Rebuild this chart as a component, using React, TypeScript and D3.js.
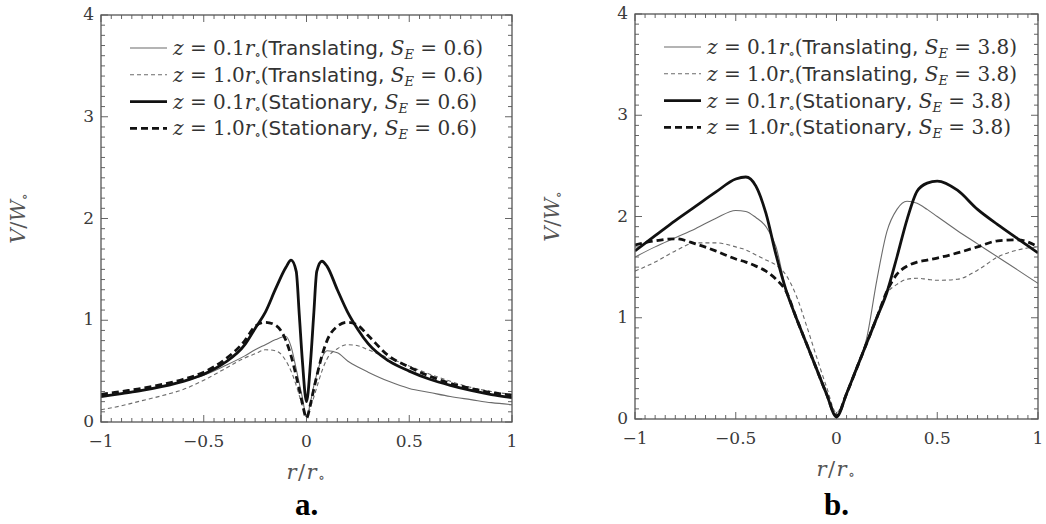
import React, { useEffect, useRef } from 'react';
import * as d3 from 'd3';

// panel a: S_E = 0.6
const rA = [-1, -0.9, -0.8, -0.7, -0.6, -0.5, -0.4, -0.3, -0.25, -0.2, -0.15, -0.1, -0.075, -0.05, -0.035, -0.02, 0,
  0.02, 0.035, 0.05, 0.075, 0.1, 0.15, 0.2, 0.25, 0.3, 0.4, 0.5, 0.6, 0.7, 0.8, 0.9, 1];
const transA01 = [0.25, 0.28, 0.31, 0.35, 0.40, 0.46, 0.55, 0.65, 0.71, 0.76, 0.81, 0.84, 0.74, 0.52, 0.38, 0.24, 0.05,
  0.2, 0.35, 0.47, 0.63, 0.70, 0.68, 0.60, 0.54, 0.49, 0.40, 0.33, 0.29, 0.25, 0.22, 0.19, 0.17];
const transA10 = [0.12, 0.16, 0.21, 0.26, 0.32, 0.41, 0.52, 0.63, 0.67, 0.71, 0.70, 0.60, 0.50, 0.36, 0.26, 0.16, 0.05,
  0.15, 0.24, 0.34, 0.50, 0.62, 0.72, 0.76, 0.75, 0.71, 0.63, 0.55, 0.47, 0.40, 0.34, 0.30, 0.27];
const statA01 = [0.25, 0.28, 0.31, 0.35, 0.40, 0.47, 0.58, 0.76, 0.92, 1.08, 1.31, 1.52, 1.59, 1.48, 1.05, 0.6, 0.2,
  0.6, 1.05, 1.48, 1.58, 1.53, 1.30, 1.08, 0.91, 0.77, 0.60, 0.50, 0.42, 0.36, 0.31, 0.27, 0.24];
const statA10 = [0.27, 0.30, 0.33, 0.37, 0.42, 0.49, 0.61, 0.80, 0.94, 0.98, 0.95, 0.80, 0.65, 0.45, 0.32, 0.18, 0.04,
  0.18, 0.32, 0.45, 0.65, 0.80, 0.94, 0.98, 0.95, 0.85, 0.65, 0.54, 0.45, 0.38, 0.33, 0.29, 0.265];

// panel b: S_E = 3.8
const rB = [-1, -0.9, -0.8, -0.7, -0.6, -0.5, -0.45, -0.4, -0.35, -0.3, -0.25, -0.2, -0.15, -0.1, -0.05, 0,
  0.05, 0.1, 0.15, 0.2, 0.25, 0.3, 0.35, 0.4, 0.45, 0.5, 0.6, 0.7, 0.8, 0.9, 1];
const transB01 = [1.60, 1.70, 1.79, 1.88, 1.98, 2.06, 2.05, 1.99, 1.90, 1.70, 1.27, 1.0, 0.75, 0.5, 0.25, 0.02,
  0.25, 0.5, 0.80, 1.37, 1.85, 2.07, 2.15, 2.13, 2.07, 2.0, 1.86, 1.73, 1.60, 1.47, 1.34];
const transB10 = [1.46, 1.55, 1.66, 1.74, 1.74, 1.70, 1.67, 1.62, 1.57, 1.52, 1.42, 1.22, 0.93, 0.62, 0.32, 0.06,
  0.27, 0.52, 0.77, 1.02, 1.24, 1.33, 1.38, 1.39, 1.38, 1.37, 1.38, 1.47, 1.60, 1.67, 1.70];
const statB01 = [1.66, 1.81, 1.96, 2.10, 2.24, 2.37, 2.39, 2.30, 2.03, 1.62, 1.27, 1.0, 0.75, 0.5, 0.25, 0.02,
  0.25, 0.5, 0.75, 1.0, 1.25, 1.60, 1.97, 2.25, 2.33, 2.35, 2.26, 2.07, 1.92, 1.78, 1.64];
const statB10 = [1.72, 1.76, 1.78, 1.73, 1.66, 1.58, 1.55, 1.51, 1.46, 1.38, 1.26, 1.0, 0.75, 0.5, 0.25, 0.03,
  0.25, 0.5, 0.75, 1.0, 1.26, 1.43, 1.51, 1.55, 1.57, 1.59, 1.64, 1.70, 1.76, 1.77, 1.70];

const xTicks = [-1, -0.5, 0, 0.5, 1];
const yTicks = [0, 1, 2, 3, 4];
const legendZ = ['0.1', '1.0', '0.1', '1.0'];
const legendKind = ['Translating', 'Translating', 'Stationary', 'Stationary'];

const lineStyles = [
  { stroke: '#6b6b6b', width: 1.1, dash: null },
  { stroke: '#6b6b6b', width: 1.1, dash: '4,3' },
  { stroke: '#111', width: 2.8, dash: null },
  { stroke: '#111', width: 2.8, dash: '7,4' },
];

const SERIF = '"DejaVu Serif", serif';
const SANS = '"DejaVu Sans", sans-serif';
const TIMES = '"Liberation Serif", serif';

function fmt(v) {
  return v < 0 ? '\u2212' + Math.abs(v) : String(v);
}

function drawPanel(svg, cfg) {
  const { left, right, top, bottom, r, series, se, letter, id } = cfg;
  const x = d3.scaleLinear().domain([-1, 1]).range([left, right]);
  const y = d3.scaleLinear().domain([0, 4]).range([bottom, top]);
  const g = svg.append('g');

  g.append('clipPath').attr('id', 'clip' + id)
    .append('rect').attr('x', left).attr('y', top).attr('width', right - left).attr('height', bottom - top);

  // ticks on all four sides, pointing in
  const xt = d3.range(0, 41).map(i => -1 + i * 0.05);
  const yt = d3.range(0, 41).map(i => i / 10);
  const tk = g.append('g').attr('stroke', '#666').attr('stroke-width', 1);
  xt.forEach(v => {
    const len = Math.abs(v * 2 - Math.round(v * 2)) < 1e-6 ? 7 : 4;
    tk.append('line').attr('x1', x(v)).attr('x2', x(v)).attr('y1', bottom).attr('y2', bottom - len);
    tk.append('line').attr('x1', x(v)).attr('x2', x(v)).attr('y1', top).attr('y2', top + len);
  });
  yt.forEach(v => {
    const len = Math.abs(v - Math.round(v)) < 1e-6 ? 7 : 4;
    tk.append('line').attr('y1', y(v)).attr('y2', y(v)).attr('x1', left).attr('x2', left + len);
    tk.append('line').attr('y1', y(v)).attr('y2', y(v)).attr('x1', right).attr('x2', right - len);
  });

  // curves
  const line = d3.line().x(d => x(d[0])).y(d => y(d[1])).curve(d3.curveMonotoneX);
  const lines = g.append('g').attr('clip-path', `url(#clip${id})`);
  series.forEach((vals, i) => {
    const st = lineStyles[i];
    lines.append('path')
      .datum(r.map((rv, j) => [rv, vals[j]]))
      .attr('d', line)
      .attr('fill', 'none')
      .attr('stroke', st.stroke)
      .attr('stroke-width', st.width)
      .attr('stroke-dasharray', st.dash)
      .attr('stroke-linejoin', 'round');
  });

  g.append('rect').attr('x', left).attr('y', top).attr('width', right - left).attr('height', bottom - top)
    .attr('fill', 'none').attr('stroke', '#555').attr('stroke-width', 1.3);

  // tick labels
  const lab = g.append('g').attr('font-family', SERIF).attr('font-size', 17).attr('fill', '#3a3a3a');
  xTicks.forEach(v => {
    lab.append('text').attr('x', x(v)).attr('y', bottom + 25).attr('text-anchor', 'middle').text(fmt(v));
  });
  yTicks.forEach(v => {
    lab.append('text').attr('x', left - 7).attr('y', y(v) + 5).attr('text-anchor', 'end').text(fmt(v));
  });

  // axis titles
  const xl = g.append('text').attr('x', x(0)).attr('y', bottom + 57).attr('text-anchor', 'middle')
    .attr('font-family', SERIF).attr('font-size', 21).attr('fill', '#555').attr('letter-spacing', 1.5);
  xl.append('tspan').attr('font-style', 'italic').text('r');
  xl.append('tspan').text('/');
  xl.append('tspan').attr('font-style', 'italic').text('r');
  xl.append('tspan').attr('font-size', 14).attr('dy', 3).text('\u2218');

  const yl = g.append('text').attr('transform', `translate(${left - 76},${y(2)}) rotate(-90)`)
    .attr('text-anchor', 'middle').attr('font-family', SERIF).attr('font-size', 21).attr('fill', '#555');
  yl.append('tspan').attr('font-style', 'italic').text('V');
  yl.append('tspan').text('/');
  yl.append('tspan').attr('font-style', 'italic').text('W');
  yl.append('tspan').attr('font-size', 14).attr('dy', 4).text('\u2218');

  // legend
  const lg = g.append('g');
  legendZ.forEach((z, i) => {
    const cy = top + 33 + i * 26.8;
    const st = lineStyles[i];
    lg.append('line').attr('x1', left + 29).attr('x2', left + 66).attr('y1', cy).attr('y2', cy)
      .attr('stroke', st.stroke).attr('stroke-width', st.width).attr('stroke-dasharray', st.dash);
    const t = lg.append('text').attr('x', left + 72).attr('y', cy + 7)
      .attr('font-family', SERIF).attr('font-size', 20).attr('fill', '#333').style('white-space', 'pre');
    t.append('tspan').attr('font-style', 'italic').text('z');
    t.append('tspan').text(' = ' + z);
    t.append('tspan').attr('font-style', 'italic').text('r');
    t.append('tspan').attr('font-size', 13).attr('dy', 4).text('\u2218');
    t.append('tspan').attr('dy', -4).text('(');
    t.append('tspan').attr('font-family', SANS).text(legendKind[i] + ', ');
    t.append('tspan').attr('font-style', 'italic').text('S');
    t.append('tspan').attr('font-style', 'italic').attr('font-size', 13).attr('dy', 4).text('E');
    t.append('tspan').attr('dy', -4).text(' = ' + se + ')');
  });

  g.append('text').attr('x', x(0)).attr('y', 515).attr('text-anchor', 'middle')
    .attr('font-family', TIMES).attr('font-weight', 'bold').attr('font-size', 31).attr('fill', '#000')
    .text(letter);
}

const App = () => {
  const svgRef = useRef(null);

  useEffect(() => {
    document.body.style.margin = '0';
    const svg = d3.select(svgRef.current);
    svg.selectAll('*').remove();
    drawPanel(svg, {
      id: 'a', left: 101, right: 512, top: 15, bottom: 422, r: rA,
      series: [transA01, transA10, statA01, statA10], se: '0.6', letter: 'a.',
    });
    drawPanel(svg, {
      id: 'b', left: 635, right: 1038, top: 14, bottom: 419, r: rB,
      series: [transB01, transB10, statB01, statB10], se: '3.8', letter: 'b.',
    });
  }, []);

  return <svg ref={svgRef} width={1046} height={524} style={{ display: 'block', background: '#fff' }}></svg>;
};

export default App;
